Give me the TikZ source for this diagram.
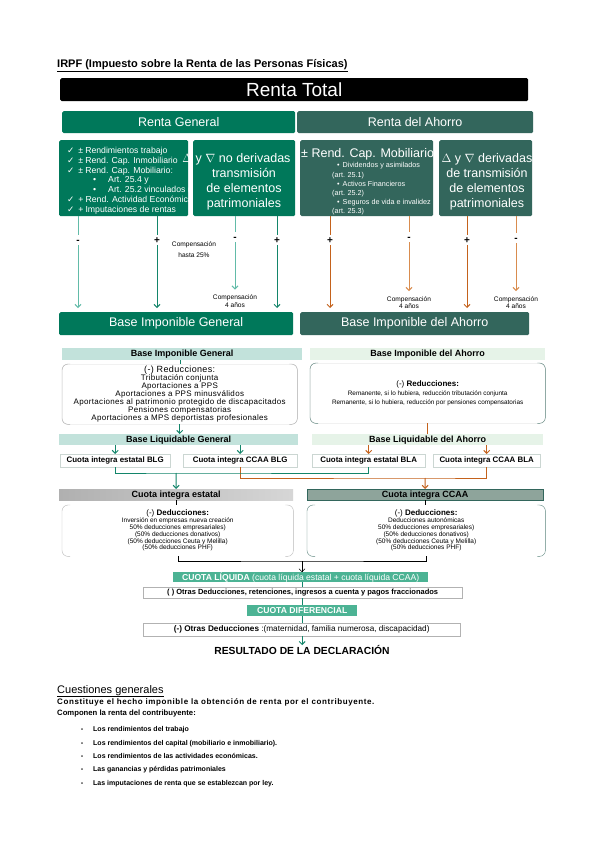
\documentclass[tikz,border=0pt]{standalone}
\usepackage{fontspec}
\setmainfont{Liberation Sans}
\newfontfamily\symfont{DejaVu Sans}
\newfontfamily\wide[LetterSpace=7.5]{Liberation Sans}
\newfontfamily\track[LetterSpace=4]{Liberation Sans}
\usetikzlibrary{arrows.meta,positioning,calc}
\definecolor{gen}{HTML}{00785A}
\definecolor{aho}{HTML}{33665C}
\definecolor{genl}{HTML}{62BBA8}
\definecolor{genm}{HTML}{13856A}
\definecolor{orn}{HTML}{C4621C}
\definecolor{ornl}{HTML}{D98C4E}
\definecolor{hdg}{HTML}{C2E2DB}
\definecolor{hda}{HTML}{E6F3E8}
\definecolor{liq}{HTML}{4CB394}
\definecolor{brd}{HTML}{CBD6D2}
\definecolor{ccaa}{HTML}{8EA49B}
\newcommand{\fs}[2]{\fontsize{#1}{#2}\selectfont}
\newcommand{\chk}{{\symfont ✓}}
\newcommand{\brk}[2]{%
  \draw[#2, rounded corners=6pt] ([xshift=8pt]#1.north west) -- (#1.north west) -- (#1.south west) -- ([xshift=8pt]#1.south west);
  \draw[#2, rounded corners=6pt] ([xshift=-8pt]#1.north east) -- (#1.north east) -- (#1.south east) -- ([xshift=-8pt]#1.south east);}

\begin{document}
\begin{tikzpicture}[x=1pt,y=-1pt,
  box/.style={anchor=north west, inner sep=0pt, text=white, font=\fs{12.5}{15}, rounded corners=1.5pt},
  gbox/.style={box, fill=gen},
  abox/.style={box, fill=aho},
  btxt/.style={text=white, font=\fs{12.5}{15}, align=center, inner sep=0pt},
  sml/.style={text=white, align=left, inner sep=0pt, anchor=north west},
  sgn/.style={font=\bfseries\fs{10}{10}, inner sep=1.5pt, text height=7pt, text depth=0pt},
  note/.style={font=\fs{6.6}{7.6}, align=center, inner sep=0pt},
  ln/.style={line width=1pt},
  arr/.style={-{Straight Barb[length=3pt,width=6pt]}},
  hdr/.style={anchor=north west, inner sep=0pt, font=\bfseries\fs{9}{9}},
  cbox/.style={anchor=north west, inner sep=0pt, draw=brd, fill=white, minimum height=13pt, font=\bfseries\fs{7.9}{8}},
  band/.style={anchor=north west, inner sep=0pt, fill=liq, text=white},
  lbox/.style={anchor=north west, inner sep=0pt, draw=gray!60, fill=white}]

\useasboundingbox[fill=white] (0,0) rectangle (600,848);

% cabecera
\node[anchor=base west, inner sep=0pt, font=\bfseries\fs{11}{11}] (tit) at (57,68)
  {\underline{IRPF (Impuesto sobre la Renta de las Personas Físicas)}};
\node[box, fill=black, minimum width=468pt, minimum height=23pt, font=\fs{19}{19}] (rt) at (60,78) {Renta Total};
\node[gbox, minimum width=233pt, minimum height=22pt] (rg) at (62,111) {Renta General};
\node[abox, minimum width=236pt, minimum height=22pt] (ra) at (297,111) {Renta del Ahorro};

% componentes de la renta
\node[gbox, minimum width=129pt, minimum height=76pt] (b1) at (59,140) {};
\node[gbox, minimum width=102pt, minimum height=76pt] (b2) at (193,140) {};
\node[abox, minimum width=133pt, minimum height=76pt] (b3) at (300,140) {};
\node[abox, minimum width=93pt, minimum height=76pt] (b4) at (439,140) {};

\begin{scope}
  \clip (b1.north west) rectangle (b1.south east);
  \node[sml, font=\fs{8.7}{9.8}] (l1) at (67,147) {%
    \chk\hspace{4pt}±\hspace{2pt}Rendimientos trabajo\\
    \chk\hspace{4pt}±\hspace{2pt}Rend. Cap. Inmobiliario\\
    \chk\hspace{4pt}±\hspace{2pt}Rend. Cap. Mobiliario:\\
    \hspace*{26pt}•\hspace{12pt}Art. 25.4 y\\
    \hspace*{26pt}•\hspace{12pt}Art. 25.2 vinculados (exc\\
    \chk\hspace{4pt}+\hspace{2pt}Rend. Actividad Económica\\
    \chk\hspace{4pt}+\hspace{2pt}Imputaciones de rentas};
\end{scope}
\node[btxt] (t2) at (244,181.5) {$\Delta$ y $\nabla$ no derivadas\hspace*{15pt}\\transmisión\\de elementos\\patrimoniales};
\node[anchor=base west, inner sep=0pt, text=white, font=\fs{12.5}{15}] (t3) at (301,157.5) {± Rend. Cap. Mobiliario};
\node[sml, font=\fs{7.2}{9.1}] (l3) at (332,162.5) {%
  \hspace*{5pt}•\hspace{3pt}Dividendos y asimilados\\(art. 25.1)\\
  \hspace*{5pt}•\hspace{3pt}Activos Financieros\\(art. 25.2)\\
  \hspace*{5pt}•\hspace{3pt}Seguros de vida e invalidez\\(art. 25.3)};
\node[btxt] (t4) at (487,181.5) {$\Delta$ y $\nabla$ derivadas\\de transmisión\\de elementos\\patrimoniales};

% bases imponibles
\node[gbox, minimum width=234pt, minimum height=23pt] (bg) at (59,312) {Base Imponible General};
\node[abox, minimum width=229pt, minimum height=23pt] (ba) at (300,312) {Base Imponible del Ahorro};

\node[sgn] (s1) at (78,240) {-};
\node[sgn] (s2) at (157,240) {+};
\node[sgn] (s3) at (235,237) {-};
\node[sgn] (s4) at (277,240) {+};
\node[sgn] (s5) at (330,240) {+};
\node[sgn] (s6) at (409,237) {-};
\node[sgn] (s7) at (467,240) {+};
\node[sgn] (s8) at (516,238) {-};
\node[note, font=\fs{6.6}{10.5}] (n0) at (194,249.5) {Compensación\\hasta 25\%};
\node[note] (n3) at (235,301) {Compensación\\4 años};
\node[note] (n6) at (409,302.5) {Compensación\\4 años};
\node[note] (n8) at (516,302.5) {Compensación\\4 años};

\draw[ln, genl] (b1.south -| s1) -- (s1);
\draw[ln, genl, arr, shorten >=4pt] (s1) -- (s1 |- bg.north);
\draw[ln, genm] (b1.south -| s2) -- (s2);
\draw[ln, genm, arr, shorten >=4pt] (s2) -- (s2 |- bg.north);
\draw[ln, genl] (b2.south -| s3) -- (s3);
\draw[ln, genl, arr, shorten >=5pt] (s3) -- (n3.north);
\draw[ln, genm] (b2.south -| s4) -- (s4);
\draw[ln, genm, arr, shorten >=4pt] (s4) -- (s4 |- bg.north);
\draw[ln, orn] (b3.south -| s5) -- (s5);
\draw[ln, orn, arr, shorten >=4pt] (s5) -- (s5 |- ba.north);
\draw[ln, ornl] (b3.south -| s6) -- (s6);
\draw[ln, ornl, arr, shorten >=5pt] (s6) -- (n6.north);
\draw[ln, orn] (b4.south -| s7) -- (s7);
\draw[ln, orn, arr, shorten >=4pt] (s7) -- (s7 |- ba.north);
\draw[ln, ornl] (b4.south -| s8) -- (s8);
\draw[ln, ornl, arr, shorten >=5pt] (s8) -- (n8.north);

% esquema de liquidacion
\node[hdr, fill=hdg, minimum width=240pt, minimum height=12pt] (hbg) at (62,348) {Base Imponible General};
\node[hdr, fill=hda, minimum width=235pt, minimum height=12pt] (hba) at (310,348) {Base Imponible del Ahorro};
\node[anchor=north west, draw=gray!30, rounded corners=5pt, minimum width=235pt, minimum height=60pt,
      inner sep=0pt, align=center, font=\track\fs{8}{8.1}] (rbg) at (62,364)
  {{\fs{9}{9}(-) Reducciones:}\\Tributación conjunta\\Aportaciones a PPS\\Aportaciones a PPS minusválidos\\
   Aportaciones al patrimonio protegido de discapacitados\\Pensiones compensatorias\\
   Aportaciones a MPS deportistas profesionales};
\node[anchor=north west, draw=gray!30, rounded corners=5pt, minimum width=235pt, minimum height=60pt,
      inner sep=0pt, align=center, font=\fs{6.4}{9.3}] (rba) at (310,363)
  {{\fs{8}{9}(-) \textbf{Reducciones:}}\\Remanente, si lo hubiera, reducción tributación conjunta\\
   Remanente, si lo hubiera, reducción por pensiones compensatorias};
\brk{rbg}{gray!60}
\brk{rba}{aho!80}
\draw[genm] (hbg.south -| rbg.north) -- (rbg.north);
\node[hdr, fill=hdg, minimum width=239pt, minimum height=11pt] (hlg) at (59,434) {Base Liquidable General};
\node[hdr, fill=hda, minimum width=231pt, minimum height=11pt] (hla) at (312,434) {Base Liquidable del Ahorro};
\draw[genm, ln, arr] (rbg.south) -- (rbg.south |- hlg.north);
\draw[orn, ln] (rba.south) -- (rba.south |- hla.north);

\node[cbox, minimum width=110pt] (c1) at (60,454) {Cuota integra estatal BLG};
\node[cbox, minimum width=114pt] (c2) at (183,454) {Cuota integra CCAA BLG};
\node[cbox, minimum width=113pt] (c3) at (312,454) {Cuota integra estatal BLA};
\node[cbox, minimum width=107pt] (c4) at (433,454) {Cuota integra CCAA BLA};
\draw[genm, ln, arr] (hlg.south -| c1.north) -- (c1.north);
\draw[genm, ln, arr] (hlg.south -| c2.north) -- (c2.north);
\draw[orn, ln, arr] (hla.south -| c3.north) -- (c3.north);
\draw[orn, ln, arr] (hla.south -| c4.north) -- (c4.north);

\node[hdr, left color=gray!62, right color=gray!32, minimum width=234pt, minimum height=11pt] (ce) at (59,489) {Cuota integra estatal};
\node[hdr, fill=ccaa, draw=aho, minimum width=236pt, minimum height=11pt] (cc) at (307,489) {Cuota integra CCAA};
\coordinate (j1) at (176,473);
\coordinate (j2) at (425,478);
\draw[orn, ln] (c2.south) |- (j2) -| (c4.south);
\draw[genm, ln] (c1.south) |- (j1) -| (c3.south);
\draw[genm, ln, arr] (j1) -- (ce.north);
\draw[orn, ln, arr] (j2) -- (cc.north);

\node[anchor=north west, minimum width=231pt, minimum height=51pt, inner sep=0pt, align=center,
      font=\fs{6.5}{6.8}] (d1) at (62,505)
  {{\fs{8}{9}(-) \textbf{Deducciones:}}\\Inversión en empresas nueva creación\\50\% deducciones empresariales)\\
   (50\% deducciones donativos)\\(50\% deducciones Ceuta y Melilla)\\(50\% deducciones PHF)};
\node[anchor=north west, minimum width=238pt, minimum height=51pt, inner sep=0pt, align=center,
      font=\fs{6.5}{6.8}] (d2) at (307,505)
  {{\fs{8}{9}(-) \textbf{Deducciones:}}\\Deducciones autonómicas\\50\% deducciones empresariales)\\
   (50\% deducciones donativos)\\(50\% deducciones Ceuta y Melilla)\\(50\% deducciones PHF)};
\brk{d1}{gray!55}
\brk{d2}{aho!80}
\draw (ce.south) -- (ce.south |- d1.north);
\draw (cc.south) -- (cc.south |- d2.north);

\node[band, minimum width=255pt, minimum height=10pt, font=\fs{8.6}{9}] (cl) at (173,572)
  {\textbf{CUOTA LÍQUIDA} (cuota líquida estatal + cuota líquida CCAA)};
\node[lbox, minimum width=319pt, minimum height=11pt, font=\bfseries\fs{7.5}{8}] (od1) at (143,587)
  {( ) Otras Deducciones, retenciones, ingresos a cuenta y pagos fraccionados};
\node[band, minimum width=110pt, minimum height=11pt, font=\bfseries\fs{8.6}{9}] (cd) at (247,605) {CUOTA DIFERENCIAL};
\node[lbox, minimum width=317pt, minimum height=13pt, font=\fs{8.2}{9}] (od2) at (143,623)
  {\textbf{(-) Otras Deducciones} :(maternidad, familia numerosa, discapacidad)};
\node[inner sep=0pt, font=\bfseries\fs{10.3}{11}] (res) at (302,650) {RESULTADO DE LA DECLARACIÓN};

\coordinate (j3) at (302,561);
\draw (d1.south) |- (j3) -| (d2.south);
\draw[arr] (j3) -- (cl.north -| j3);
\draw[genm, ln] (cl.south -| cd) -- (od1.north -| cd);
\draw[genm, ln] (od1.south -| cd) -- (cd.north);
\draw[genm, ln] (cd.south) -- (od2.north -| cd);
\draw[genm, ln, arr] (od2.south -| cd) -- (res.north -| cd);

% cuestiones generales
\node[anchor=base west, inner sep=0pt, font=\fs{11}{11}] (cg) at (57,693) {\underline{Cuestiones generales}};
\node[anchor=base west, inner sep=0pt, font=\wide\bfseries\fs{8}{8}] (p1) at (57,704.5)
  {Constituye el hecho imponible la obtención de renta por el contribuyente.};
\node[anchor=base west, inner sep=0pt, font=\bfseries\fs{7.7}{8}] (p2) at (57,715)
  {Componen la renta del contribuyente:};
\foreach \t [count=\i] in {Los rendimientos del trabajo,
    Los rendimientos del capital (mobiliario e inmobiliario).,
    Los rendimientos de las actividades económicas.,
    Las ganancias y pérdidas patrimoniales,
    Las imputaciones de renta que se establezcan por ley.}{
  \node[anchor=base, inner sep=0pt, font=\bfseries\fs{7.5}{8}] (da\i) at (82,718.5+13.3*\i) {-};
  \node[anchor=base west, inner sep=0pt, font=\bfseries\fs{7}{8}] (it\i) at (93,718.5+13.3*\i) {\t};
}
\end{tikzpicture}
\end{document}
